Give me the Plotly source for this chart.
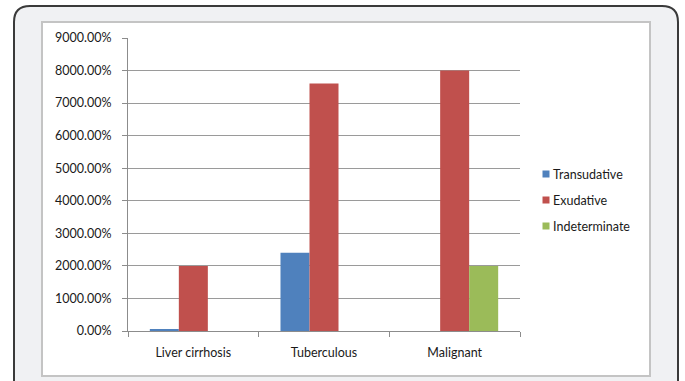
import plotly.graph_objects as go

categories = ["Liver cirrhosis", "Tuberculous", "Malignant"]
series_names = ["Transudative", "Exudative", "Indeterminate"]
transudative = [60, 2400, 0]
exudative = [2000, 7600, 8000]
indeterminate = [0, 0, 2000]
colors = ["#4F81BD", "#C0504D", "#9BBB59"]
y_ticks = [0, 1000, 2000, 3000, 4000, 5000, 6000, 7000, 8000, 9000]

W, H = 685, 381
L, R, T, B = 128, 520, 38, 331  # plot-area pixel box


def px(x):
    return (x - L) / (R - L)


def py(y):
    return (B - y) / (B - T)


FONT = "Lato"
TXT = "#1a1a1a"

fig = go.Figure()
for name, vals, col in zip(series_names, [transudative, exudative, indeterminate], colors):
    fig.add_trace(go.Bar(x=categories, y=vals, name=name, marker_color=col,
                         marker_line_width=0, showlegend=False))

shapes = []
# outer rounded frame
x0, y0, x1, y1, r = 14, 6, 678, 420, 16
path = (f"M {px(x0)},{py(y1)} L {px(x0)},{py(y0 + r)} "
        f"Q {px(x0)},{py(y0)} {px(x0 + r)},{py(y0)} "
        f"L {px(x1 - r)},{py(y0)} Q {px(x1)},{py(y0)} {px(x1)},{py(y0 + r)} "
        f"L {px(x1)},{py(y1)} Z")
shapes.append(dict(type="path", xref="paper", yref="paper", path=path,
                   fillcolor="#F0F1F3", line=dict(color="#3a3a3a", width=2), layer="below"))
# inner chart area
shapes.append(dict(type="rect", xref="paper", yref="paper",
                   x0=px(42), x1=px(650), y0=py(376), y1=py(22),
                   fillcolor="white", line=dict(color="#C4C4C4", width=2), layer="below"))

# legend
annotations = []
leg_x, leg_y0, leg_dy = 546, 174, 26
for i, (name, col) in enumerate(zip(series_names, colors)):
    cy = leg_y0 + i * leg_dy
    shapes.append(dict(type="rect", xref="paper", yref="paper",
                       x0=px(leg_x - 3.5), x1=px(leg_x + 3.5),
                       y0=py(cy + 3.5), y1=py(cy - 3.5),
                       fillcolor=col, line=dict(width=0)))
    annotations.append(dict(xref="paper", yref="paper", x=px(leg_x + 5), y=py(cy),
                            xanchor="left", yanchor="middle", text=name, showarrow=False,
                            font=dict(family=FONT, size=12.5, color=TXT)))

fig.update_layout(
    width=W, height=H,
    margin=dict(l=L, r=W - R, t=T, b=H - B, pad=0),
    paper_bgcolor="white", plot_bgcolor="rgba(0,0,0,0)",
    barmode="group", bargap=0.334, bargroupgap=0,
    shapes=shapes, annotations=annotations,
    font=dict(family=FONT, size=12.5, color=TXT),
)
fig.update_xaxes(
    type="category", range=[-0.5, 2.5], showline=True, linecolor="#8c8c8c", linewidth=1,
    ticks="outside", tickson="boundaries", ticklen=5, tickcolor="#8c8c8c",
    showgrid=False, ticklabelstandoff=10,
)
fig.update_yaxes(
    range=[0, 9000], tickvals=y_ticks, ticktext=[f"{v:.2f}%" for v in y_ticks],
    showline=True, linecolor="#8c8c8c", linewidth=1,
    ticks="outside", ticklen=5, tickcolor="#8c8c8c",
    showgrid=True, gridcolor="#9a9a9a", gridwidth=1, zeroline=False,
    ticklabelstandoff=8,
)

fig.write_html("out.html")
